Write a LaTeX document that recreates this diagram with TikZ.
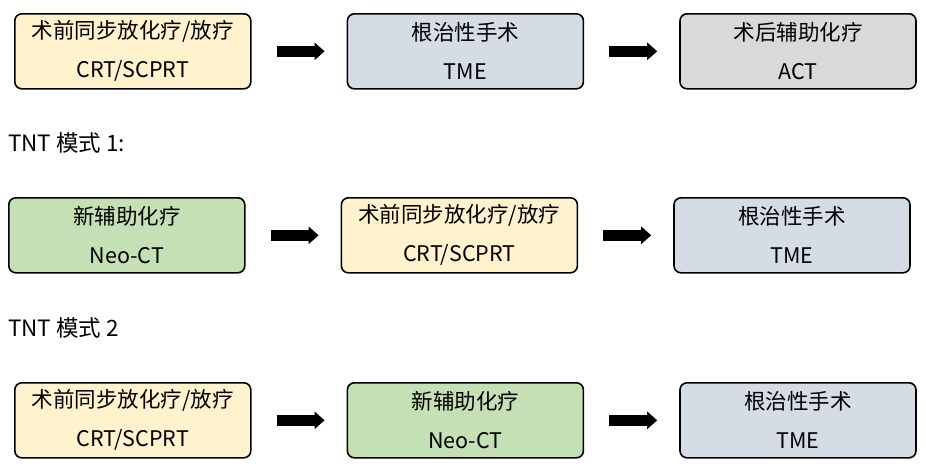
\documentclass[tikz,border=0pt]{standalone}
\usepackage{fontspec}
\setmainfont{Noto Sans CJK SC}
\usepackage{tikz}
\usetikzlibrary{arrows.meta,positioning}

\definecolor{crtfill}{HTML}{FFF2CC}
\definecolor{tmefill}{HTML}{D6DCE5}
\definecolor{actfill}{HTML}{D9D9D9}
\definecolor{neofill}{HTML}{C5E0B4}

\begin{document}
\begin{tikzpicture}[
  node distance=95pt,
  stage/.style={rectangle,draw,line width=1.6pt,rounded corners=7pt,align=center,
    minimum width=236pt,minimum height=75pt,inner sep=0pt,
    font=\fontsize{21.5}{39}\selectfont},
  label/.style={anchor=west,inner sep=0pt,font=\fontsize{22.5}{26}\selectfont},
  arrow/.style={line width=11pt,-{Triangle[length=10pt,width=17pt]},
    shorten <=25pt,shorten >=22pt}]
\useasboundingbox (0pt,0pt) rectangle (926pt,-472pt);
% standard pathway
\node[stage,fill=crtfill,anchor=north west] (r1) at (14pt,-13pt) {术前同步放化疗/放疗\\CRT/SCPRT};
\node[stage,fill=tmefill,right=of r1] (r2) {根治性手术\\TME};
\node[stage,fill=actfill,right=of r2] (r3) {术后辅助化疗\\ACT};
% TNT 1
\node[label] (t1) at (8pt,-143pt) {TNT 模式 1:};
\node[stage,fill=neofill,anchor=north west] (a1) at (8pt,-197pt) {新辅助化疗\\Neo-CT};
\node[stage,fill=crtfill,right=of a1] (a2) {术前同步放化疗/放疗\\CRT/SCPRT};
\node[stage,fill=tmefill,right=of a2] (a3) {根治性手术\\TME};
% TNT 2
\node[label] (t2) at (8pt,-328pt) {TNT 模式 2};
\node[stage,fill=crtfill,anchor=north west] (c1) at (14pt,-382pt) {术前同步放化疗/放疗\\CRT/SCPRT};
\node[stage,fill=neofill,right=of c1] (c2) {新辅助化疗\\Neo-CT};
\node[stage,fill=tmefill,right=of c2] (c3) {根治性手术\\TME};
\draw[arrow] (r1)--(r2); \draw[arrow] (r2)--(r3);
\draw[arrow] (a1)--(a2); \draw[arrow] (a2)--(a3);
\draw[arrow] (c1)--(c2); \draw[arrow] (c2)--(c3);
\end{tikzpicture}
\end{document}
